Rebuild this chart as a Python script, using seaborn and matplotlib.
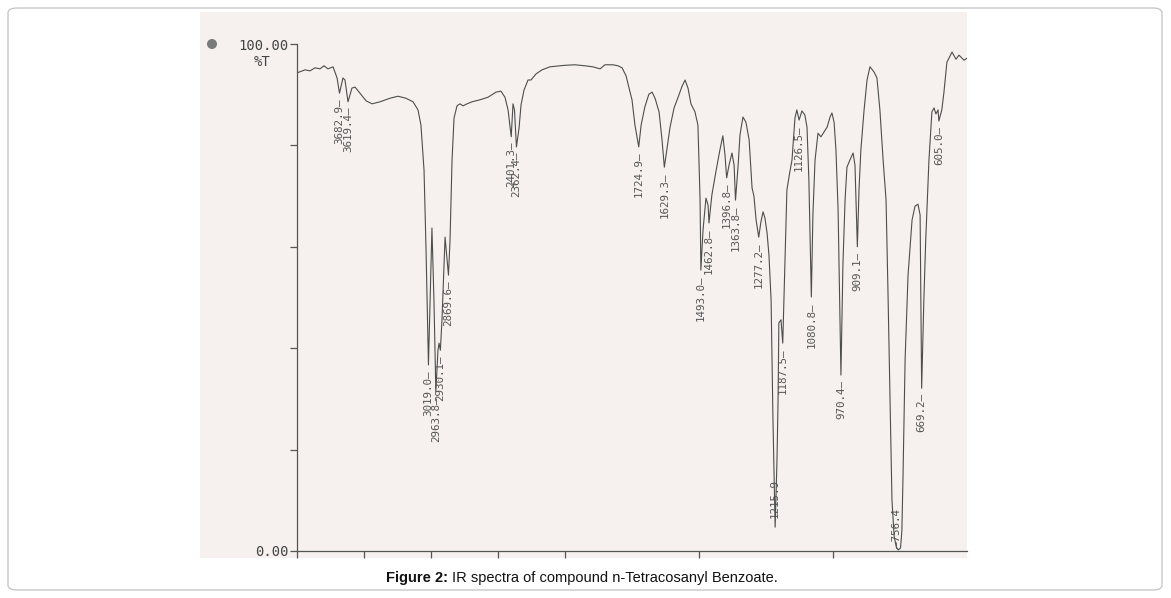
import numpy as np
import matplotlib
matplotlib.use("Agg")
import matplotlib.pyplot as plt
import seaborn as sns
from matplotlib.patches import Rectangle, FancyBboxPatch, Circle

# IR spectrum (wavenumber in cm-1, %T)
wavenumber = np.array([
    4000, 3940, 3903, 3866, 3828, 3799, 3769, 3731, 3701, 3682.9,
    3657, 3642, 3619.4, 3590, 3567, 3530, 3485, 3440, 3381, 3306,
    3246, 3187, 3134, 3097, 3075, 3052, 3037, 3019.0, 3007, 2993,
    2978, 2963.8, 2948, 2940, 2930.1, 2918, 2895, 2869.6, 2858, 2843,
    2828, 2806, 2784, 2761, 2731, 2694, 2634, 2575, 2515, 2478,
    2448, 2425, 2401.3, 2388, 2377, 2362.4, 2343, 2328, 2306, 2276,
    2254, 2216, 2172, 2112, 2037, 2000, 1963, 1925, 1896, 1869,
    1851, 1821, 1802, 1787, 1772, 1761, 1750, 1739, 1724.9, 1716,
    1702, 1687, 1675, 1664, 1649, 1638, 1629.3, 1620, 1608, 1593,
    1578, 1563, 1552, 1541, 1530, 1515, 1504, 1496, 1493.0, 1485,
    1474, 1466, 1462.8, 1452, 1437, 1422, 1411, 1403, 1396.8, 1388,
    1377, 1369, 1363.8, 1354, 1347, 1336, 1325, 1313, 1306, 1302,
    1295, 1287, 1277.2, 1269, 1261, 1254, 1246, 1239, 1231, 1224,
    1215.9, 1209, 1205, 1202, 1194, 1187.5, 1179, 1172, 1161, 1153,
    1142, 1135, 1126.5, 1116, 1105, 1097, 1090, 1080.8, 1075, 1067,
    1056, 1045, 1034, 1022, 1011, 1004, 996, 989, 981, 970.4,
    963, 955, 948, 937, 925, 918, 909.1, 903, 896, 884,
    873, 862, 847, 836, 825, 813, 802, 795, 787, 780,
    772, 764, 756.4, 748, 743, 739, 731, 720, 705, 694, 683, 675,
    669.2, 661, 654, 642, 631, 623, 616, 608, 605.0, 594,
    586, 575, 556, 541, 530, 511, 500,
])
transmittance = np.array([
    94.3, 94.9, 94.7, 95.3, 95.1, 95.7, 95.1, 95.5, 93.3, 90.3,
    93.3, 92.9, 88.6, 91.3, 91.5, 90.3, 88.8, 88.2, 88.6, 89.3,
    89.7, 89.3, 88.6, 87.0, 84.0, 75.1, 59.4, 36.7, 49.5, 63.7,
    49.5, 31.4, 39.6, 41.0, 39.6, 45.6, 61.9, 54.4, 61.3, 77.1,
    85.4, 87.8, 88.2, 87.8, 88.2, 88.6, 89.0, 89.5, 90.5, 90.7,
    89.5, 87.0, 81.7, 88.2, 87.0, 79.7, 83.4, 88.0, 90.9, 92.9,
    92.9, 94.1, 94.9, 95.5, 95.7, 95.8, 95.9, 95.7, 95.5, 95.1,
    95.9, 95.9, 95.7, 95.3, 93.7, 91.3, 89.0, 84.0, 79.7, 84.0,
    87.6, 90.1, 90.5, 89.3, 86.6, 81.1, 75.7, 79.1, 83.6, 87.4,
    89.5, 91.7, 92.9, 91.3, 88.2, 86.6, 84.0, 69.2, 55.4, 63.3,
    69.6, 68.2, 64.7, 70.2, 74.8, 79.1, 81.9, 78.1, 73.6, 76.1,
    78.5, 76.1, 69.2, 76.1, 82.1, 85.6, 84.6, 81.1, 75.1, 71.6,
    70.0, 65.3, 61.9, 64.9, 66.9, 65.7, 62.7, 58.4, 49.5, 25.8,
    4.7, 17.9, 29.8, 45.0, 45.6, 41.0, 58.0, 71.2, 74.8, 77.1,
    85.4, 87.0, 85.0, 86.8, 86.0, 83.6, 73.2, 50.1, 66.3, 77.1,
    82.4, 81.7, 82.6, 83.6, 85.6, 86.4, 84.6, 79.1, 67.3, 34.7,
    56.4, 69.2, 75.7, 77.1, 78.5, 76.1, 60.0, 71.2, 79.1, 87.0,
    92.9, 95.5, 94.5, 93.3, 87.0, 77.1, 69.2, 51.5, 29.8, 10.1,
    3.0, 0.8, 0.2, 0.6, 4.0, 14.0, 37.7, 54.4, 65.3, 68.0, 68.4, 66.3,
    32.1, 49.5, 61.3, 77.1, 86.6, 87.4, 86.2, 87.0, 84.8, 87.0,
    90.5, 96.4, 98.4, 97.0, 97.8, 96.8, 97.2,
])

# annotated peaks
peak_wn = [3682.9, 3619.4, 3019.0, 2963.8, 2930.1, 2869.6, 2401.3, 2362.4,
           1724.9, 1629.3, 1493.0, 1462.8, 1396.8, 1363.8, 1277.2, 1215.9,
           1187.5, 1126.5, 1080.8, 970.4, 909.1, 756.4, 669.2, 605.0]
peak_text = ["3682.9", "3619.4", "3019.0", "2963.8", "2930.1", "2869.6",
             "2401.3", "2362.4", "1724.9", "1629.3", "1493.0", "1462.8",
             "1396.8", "1363.8", "1277.2", "1215.9", "1187.5", "1126.5",
             "1080.8", "970.4", "909.1", "756.4", "669.2", "605.0"]

y_ticks = [0, 20, 40, 60, 80, 100]
y_ticklabels = ["0.00", "", "", "", "", "100.00"]
x_ticks = [4000, 3500, 3000, 2500, 2000, 1500, 1000]


# IR charts change scale at 2000 cm-1 (double width below)
def fwd(x):
    x = np.asarray(x, dtype=float)
    return np.where(x >= 2000, 1500 + (x - 2000) * 0.5, x - 500)


def inv(u):
    u = np.asarray(u, dtype=float)
    return np.where(u >= 1500, 2000 + (u - 1500) * 2.0, u + 500)


sns.set_theme(style="ticks")
plt.rcParams["font.family"] = ["DejaVu Sans"]

W, H = 1171, 598
fig = plt.figure(figsize=(W / 100, H / 100), dpi=100)
fig.patch.set_facecolor("white")

# outer rounded frame
fig.patches.append(FancyBboxPatch(
    (8 / W, 8 / H), 1154 / W, 582 / H,
    boxstyle="round,pad=0,rounding_size=0.008",
    transform=fig.transFigure, facecolor="white",
    edgecolor="#c8c8c8", linewidth=1.0, zorder=-3))
# scanned paper
fig.patches.append(Rectangle(
    (200 / W, (H - 558) / H), 767 / W, 546 / H,
    transform=fig.transFigure, facecolor="#f6f1ef",
    edgecolor="none", zorder=-2))
# hole punch mark (pixel coordinates)
fig.patches.append(Circle(
    (212, H - 44), 5, transform=None,
    facecolor="#7a7a7a", edgecolor="none", zorder=-1))

ax = fig.add_axes([297 / W, (H - 551) / H, 670 / W, 507 / H])
ax.set_facecolor("none")

sns.lineplot(x=wavenumber, y=transmittance, sort=False, estimator=None,
             color="#4d4d4d", linewidth=0.8, ax=ax)

ax.set_xscale("function", functions=(fwd, inv))
ax.set_xlim(4000, 500)
ax.set_ylim(0, 100)

ax.set_yticks(y_ticks)
ax.set_yticklabels(y_ticklabels, family="DejaVu Sans Mono", fontsize=10,
                   color="#444444")
ax.set_xticks(x_ticks)
ax.set_xticklabels([""] * len(x_ticks))
ax.minorticks_off()
ax.tick_params(axis="both", direction="out", length=5, width=0.9,
               color="#555555", pad=1)

for side in ["top", "right"]:
    ax.spines[side].set_visible(False)
for side in ["left", "bottom"]:
    ax.spines[side].set_color("#555555")
    ax.spines[side].set_linewidth(0.9)

ax.set_xlabel("")
ax.set_ylabel("")
ax.text(-0.052, 0.965, "%T", transform=ax.transAxes, ha="center",
        va="center", family="DejaVu Sans Mono", fontsize=10, color="#444444")

# peak annotations
lbl_size = 7.8
for wn, txt in zip(peak_wn, peak_text):
    t_dip = np.interp(wn, wavenumber[::-1], transmittance[::-1])
    if txt == "756.4":
        ax.text(761, 0.5, "\u2014" + txt, rotation=90, ha="center",
                va="bottom", family="DejaVu Sans Mono", fontsize=lbl_size,
                color="#555555", clip_on=False)
    elif txt == "1215.9":
        ax.text(wn, t_dip + 1.8, txt, rotation=90, ha="center",
                va="bottom", family="DejaVu Sans Mono", fontsize=lbl_size,
                color="#555555", clip_on=False)
    else:
        ax.text(wn, t_dip - 1.0, txt + "\u2014", rotation=90, ha="center",
                va="top", family="DejaVu Sans Mono", fontsize=lbl_size,
                color="#555555", clip_on=False)

# caption
fig.text(448 / W, (H - 578) / H, "Figure 2:", ha="right", va="center",
         family="Liberation Sans", fontweight="bold", fontsize=10.5,
         color="#111111")
fig.text(452 / W, (H - 578) / H,
         "IR spectra of compound n-Tetracosanyl Benzoate.", ha="left",
         va="center", family="Liberation Sans", fontsize=10.5,
         color="#111111")

fig.savefig("out.png", dpi=100)
